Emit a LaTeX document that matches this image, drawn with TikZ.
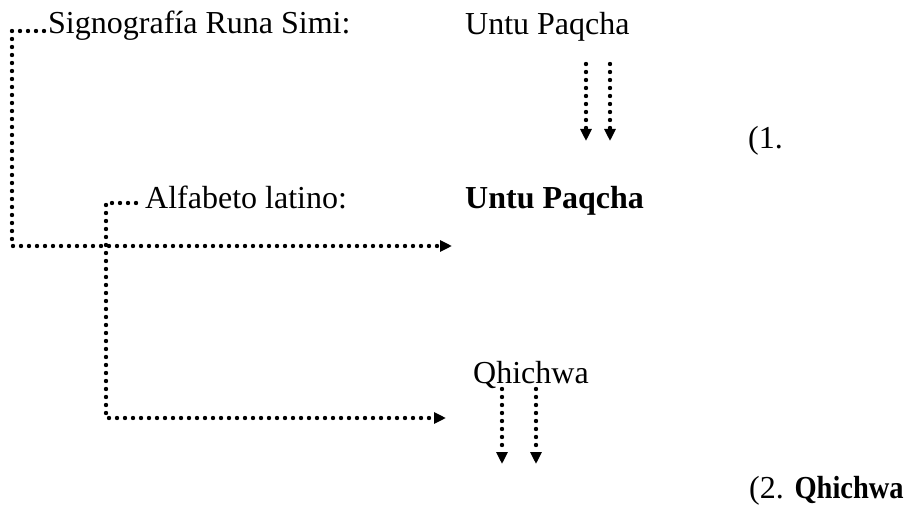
\documentclass[tikz,border=0pt]{standalone}
\usepackage{fontspec}
\usepackage{graphicx}
\setmainfont{Liberation Serif}
\usetikzlibrary{arrows.meta}
\begin{document}
\begin{tikzpicture}[x=1pt,y=-1pt,
  txt/.style={anchor=base west,inner sep=0pt,font=\fontsize{32}{38}\selectfont},
  dotline/.style={line width=4.4pt,line cap=round,dash pattern=on 0pt off 8pt},
  arr/.style={dotline,-{Triangle[length=12pt,width=11pt]}}]
\useasboundingbox (0,0) rectangle (908,508);
% texts
\node[txt] (sig) at (48,34) {Signografía Runa Simi:};
\node[txt] (up1) at (465,35) {Untu Paqcha};
\node[txt] (n1) at (748,149) {(1.};
\node[txt] (alf) at (145,208) {Alfabeto latino:};
\node[txt] (up2) at (465,208) {\bfseries Untu Paqcha};
\node[txt] (qh) at (473,383) {Qhichwa};
\node[txt] (n2) at (749,498) {(2. \scalebox{0.89}[1]{\bfseries Qhichwa}};
% coordinates
\coordinate (c1) at (12,31);
\coordinate (c2) at (12,246);
\coordinate (e1) at (452,246);
\coordinate (c3) at (106,203);
\coordinate (c4) at (106,418);
\coordinate (e2) at (446,418);
\coordinate (a1s) at (586,64);
\coordinate (a1e) at (586,141);
\coordinate (a2s) at (610,64);
\coordinate (a2e) at (610,141);
\coordinate (a3s) at (502,389);
\coordinate (a3e) at (502,464);
\coordinate (a4s) at (536,389);
\coordinate (a4e) at (536,464);
% connectors
\draw[arr] ([shift={(-4,-3)}]sig.base west) -- (c1) -- (c2) -- (e1);
\draw[arr] ([shift={(-9,-5)}]alf.base west) -- (c3) -- (c4) -- (e2);
\draw[arr] (a1s) -- (a1e);
\draw[arr] (a2s) -- (a2e);
\draw[arr] (a3s) -- (a3e);
\draw[arr] (a4s) -- (a4e);
\end{tikzpicture}
\end{document}
